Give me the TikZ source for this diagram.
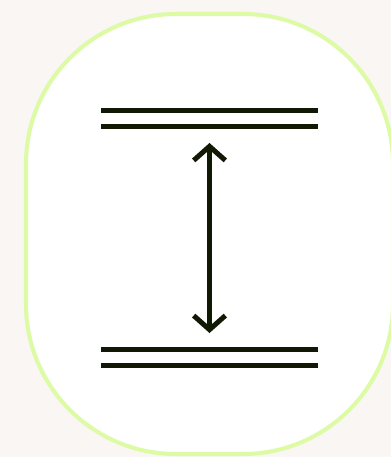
\documentclass[tikz,border=0pt]{standalone}
\usetikzlibrary{arrows.meta}
\definecolor{bgC}{RGB}{249,246,243}
\definecolor{rimC}{RGB}{220,251,164}
\definecolor{inkC}{RGB}{17,25,5}
\newcommand{\XL}{101}
\newcommand{\XR}{318}
\newcommand{\XM}{209.5}

\begin{document}
\begin{tikzpicture}[
    x=0.02cm, y=-0.02cm,
    rim/.style={draw=rimC, line width=2.3pt, fill=white, rounded corners=3cm},
    lvl/.style={draw=inkC, line width=2.85pt},
    barb/.tip={Straight Barb[length=8pt, width=18pt]},
    jump/.style={draw=inkC, line width=2.85pt, {barb}-{barb}},
  ]

  % page and card
  \fill[bgC] (0,0) rectangle (391,457);
  \useasboundingbox (0,0) rectangle (391,457);
  \draw[rim] (26,14) rectangle (393,454);

  %% ============ energy levels ============
  \foreach \n/\y in {a/110.5, b/126.5, c/349, d/365} {
    \coordinate (\n L) at (\XL,\y);
    \coordinate (\n R) at (\XR,\y);
    \draw[lvl] (\n L) -- (\n R);
  }

  %% ============ transition ============
  \coordinate (top) at (\XM,143);
  \coordinate (bot) at (\XM,333);
  \draw[jump] (top) -- (bot);

\end{tikzpicture}
\end{document}
